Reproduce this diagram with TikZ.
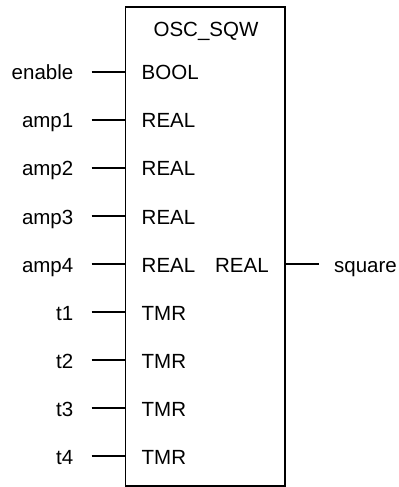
\documentclass[tikz,border=0pt]{standalone}
\usepackage{fontspec}
\setmainfont{Liberation Sans}
\usetikzlibrary{calc,positioning}
\tikzset{
  every node/.append style={font=\fontsize{20.5bp}{24bp}\selectfont},
  pinlabel/.style={inner sep=0pt},
  pinline/.style={line width=1.9bp,line cap=butt}
}

\begin{document}
\begin{tikzpicture}[x=1bp,y=-1bp]
  \useasboundingbox (0,0) rectangle (398,487);
  % function block
  \node[draw,line width=1.9bp,minimum width=159.5bp,minimum height=479bp,
        anchor=north west,inner sep=0pt] (blk) at (124.5,6) {};
  \node[pinlabel,anchor=base] (title) at (206,37) {OSC\_SQW};
  % inputs
  \foreach \name/\type [count=\i from 0] in
    {enable/BOOL,amp1/REAL,amp2/REAL,amp3/REAL,amp4/REAL,t1/TMR,t2/TMR,t3/TMR,t4/TMR}{
    \coordinate (in\i) at ($(blk.north west |- 0,72+48*\i)$);
    \coordinate (pin\i) at ($(in\i)+(-33,0)$);
    \draw[pinline] (pin\i) -- (in\i);
    \node[pinlabel,anchor=base east] (lbl\i) at ($(pin\i)+(-18,8)$) {\name};
    \node[pinlabel,anchor=base west] (typ\i) at ($(in\i)+(17,8)$) {\type};
  }
  % output
  \coordinate (out) at ($(blk.north east |- 0,264)$);
  \coordinate (pout) at ($(out)+(33,0)$);
  \draw[pinline] (out) -- (pout);
  \node[pinlabel,anchor=base east] (otyp) at ($(out)+(-17,8)$) {REAL};
  \node[pinlabel,anchor=base west] (olbl) at ($(pout)+(15,8)$) {square};
\end{tikzpicture}
\end{document}
